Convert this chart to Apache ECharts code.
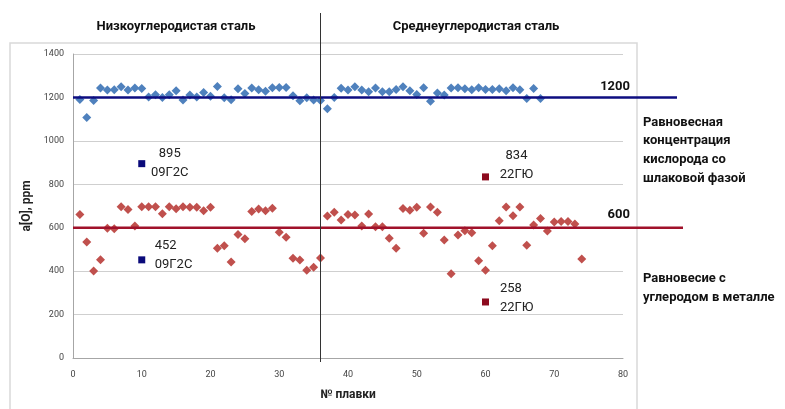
<!DOCTYPE html>
<html>
<head>
<meta charset="utf-8">
<script src="https://cdn.jsdelivr.net/npm/echarts@6/dist/echarts.min.js"></script>
<style>
  html, body { margin: 0; padding: 0; background: #fff; }
  #chart { width: 785px; height: 409px; }
</style>
</head>
<body>
<div id="chart"></div>
<script>
// Oxygen activity per heat, ppm
const blueValues = [
  1191, 1108, 1186, 1243, 1234, 1235, 1249, 1234, 1243, 1241,
  1202, 1212, 1200, 1212, 1231, 1188, 1211, 1202, 1223, 1205,
  1250, 1198, 1189, 1240, 1218, 1243, 1235, 1229, 1244, 1246,
  1246, 1208, 1185, 1198, 1188, 1186, 1148, 1200, 1242, 1234,
  1249, 1234, 1226, 1243, 1226, 1226, 1237, 1249, 1231, 1214,
  1244, 1182, 1220, 1211, 1243, 1244, 1240, 1235, 1244, 1237,
  1237, 1240, 1231, 1244, 1235, 1195, 1241, 1195
];
const redValues = [
  661, 534, 401, 453, 597, 595, 697, 684, 608, 697,
  697, 697, 664, 697, 687, 697, 694, 694, 678, 694,
  506, 517, 442, 569, 549, 675, 686, 678, 690, 579,
  556, 459, 451, 404, 418, 460, 654, 671, 635, 661,
  658, 608, 663, 605, 605, 551, 506, 689, 681, 694,
  575, 695, 671, 543, 388, 566, 586, 577, 448, 404,
  517, 632, 695, 655, 695, 519, 612, 643, 585, 626,
  629, 629, 617, 456
];
// Single reference heats: [heat no., ppm, grade]
const navyPoints = [[10, 895, '09Г2С'], [10, 452, '09Г2С']];
const maroonPoints = [[60, 834, '22ГЮ'], [60, 258, '22ГЮ']];
// Equilibrium levels
const slagLevel = 1200;
const carbonLevel = 600;
// Border between low- and medium-carbon heats
const steelBorder = 36;

const xMin = 0, xMax = 80, xStep = 10;
const yMin = 0, yMax = 1400, yStep = 200;

const FONT = 'Roboto';
const chart = echarts.init(document.getElementById('chart'));

function heatSeries(values) {
  return values.map((v, i) => [i + 1, v]);
}

const yAxisBase = { type: 'value', min: yMin, max: yMax, interval: yStep };
const plainNumber = v => String(v);

chart.setOption({
  backgroundColor: '#fff',
  animation: false,
  grid: [
    { left: 73, right: 162, top: 54, bottom: 51 },
    { left: 73, right: 108, top: 54, bottom: 51 },
    { left: 73, right: 102, top: 54, bottom: 51 }
  ],
  xAxis: [
    {
      type: 'value', gridIndex: 0, min: xMin, max: xMax, interval: xStep,
      name: '№ плавки', nameLocation: 'middle', nameGap: 31,
      nameTextStyle: { fontFamily: FONT, fontWeight: 'bold', fontSize: 12, color: '#222' },
      axisLine: { show: true, lineStyle: { color: '#a6a6a6', width: 1 } },
      axisTick: { show: false },
      axisLabel: { fontFamily: FONT, fontSize: 9, color: '#444', margin: 12, formatter: plainNumber },
      splitLine: { show: false }
    },
    { type: 'value', gridIndex: 1, min: 0, max: 1, show: false },
    { type: 'value', gridIndex: 2, min: 0, max: 1, show: false }
  ],
  yAxis: [
    Object.assign({}, yAxisBase, {
      gridIndex: 0,
      name: 'a[O], ppm', nameLocation: 'middle', nameGap: 34,
      nameTextStyle: { fontFamily: FONT, fontWeight: 'bold', fontSize: 12, color: '#222' },
      axisLine: { show: true, lineStyle: { color: '#a6a6a6', width: 1 } },
      axisTick: { show: false },
      axisLabel: { fontFamily: FONT, fontSize: 9, color: '#444', margin: 9, formatter: plainNumber },
      splitLine: { show: true, lineStyle: { color: '#cfcfcf', width: 1 } }
    }),
    Object.assign({}, yAxisBase, { gridIndex: 1, show: false }),
    Object.assign({}, yAxisBase, { gridIndex: 2, show: false })
  ],
  series: [
    {
      type: 'scatter', xAxisIndex: 0, yAxisIndex: 0,
      symbol: 'diamond', symbolSize: 9,
      itemStyle: { color: '#4f81bd', opacity: 1 },
      data: heatSeries(blueValues), z: 3
    },
    {
      type: 'scatter', xAxisIndex: 0, yAxisIndex: 0,
      symbol: 'diamond', symbolSize: 9,
      itemStyle: { color: '#c0504d', opacity: 1 },
      data: heatSeries(redValues), z: 3
    },
    {
      type: 'line', xAxisIndex: 1, yAxisIndex: 1, symbol: 'none',
      lineStyle: { color: '#0d0d80', width: 2.5 },
      data: [[0, slagLevel], [1, slagLevel]], z: 4
    },
    {
      type: 'line', xAxisIndex: 2, yAxisIndex: 2, symbol: 'none',
      lineStyle: { color: '#a0112a', width: 2.5 },
      data: [[0, carbonLevel], [1, carbonLevel]], z: 4
    },
    {
      type: 'scatter', xAxisIndex: 0, yAxisIndex: 0,
      symbol: 'rect', symbolSize: 7,
      itemStyle: { color: '#0a0a7a', opacity: 1 }, z: 5,
      data: [
        { value: navyPoints[0].slice(0, 2), name: navyPoints[0][2],
          label: { position: [31.5, 3.5], align: 'center' } },
        { value: navyPoints[1].slice(0, 2), name: navyPoints[1][2],
          label: { position: [16.5, -1.5], align: 'left' } }
      ],
      label: {
        show: true, verticalAlign: 'middle', lineHeight: 19,
        fontFamily: FONT, fontSize: 13, color: '#222',
        formatter: p => p.value[1] + '\n' + p.name
      }
    },
    {
      type: 'scatter', xAxisIndex: 0, yAxisIndex: 0,
      symbol: 'rect', symbolSize: 7,
      itemStyle: { color: '#8c0a1e', opacity: 1 }, z: 5,
      data: [
        { value: maroonPoints[0].slice(0, 2), name: maroonPoints[0][2],
          label: { position: [34.5, -8.5], align: 'center' } },
        { value: maroonPoints[1].slice(0, 2), name: maroonPoints[1][2],
          label: { position: [18, -0.5], align: 'left' } }
      ],
      label: {
        show: true, verticalAlign: 'middle', lineHeight: 19,
        fontFamily: FONT, fontSize: 13, color: '#222',
        formatter: p => p.value[1] + '\n' + p.name
      }
    }
  ]
});

// Texts and frame that sit around the plot
const borderX = chart.convertToPixel({ xAxisIndex: 0 }, steelBorder);
const xBottom = chart.convertToPixel({ yAxisIndex: 0 }, yMin);
const ySlag = chart.convertToPixel({ yAxisIndex: 0 }, slagLevel);
const yCarbon = chart.convertToPixel({ yAxisIndex: 0 }, carbonLevel);

const boldText = { fontFamily: FONT, fontWeight: 'bold', fontSize: 13, fill: '#111' };

chart.setOption({
  graphic: [
    {
      type: 'rect', silent: true, z: 0,
      shape: { x: 10, y: 43, width: 627, height: 380 },
      style: { fill: null, stroke: '#d9d9d9', lineWidth: 1.5 }
    },
    {
      type: 'line', silent: true, z: 10,
      shape: { x1: borderX, y1: 13, x2: borderX, y2: xBottom + 4 },
      style: { stroke: '#333', lineWidth: 1 }
    },
    {
      type: 'text', x: 176, y: 27, z: 10,
      style: Object.assign({ text: 'Низкоуглеродистая сталь', align: 'center', verticalAlign: 'middle' }, boldText)
    },
    {
      type: 'text', x: 476, y: 27, z: 10,
      style: Object.assign({ text: 'Среднеуглеродистая сталь', align: 'center', verticalAlign: 'middle' }, boldText)
    },
    {
      type: 'text', x: 630, y: ySlag - 11, z: 10,
      style: Object.assign({ text: String(slagLevel), align: 'right', verticalAlign: 'middle' }, boldText)
    },
    {
      type: 'text', x: 630, y: yCarbon - 13, z: 10,
      style: Object.assign({ text: String(carbonLevel), align: 'right', verticalAlign: 'middle' }, boldText)
    },
    {
      type: 'text', x: 643, y: 113, z: 10,
      style: Object.assign({
        text: 'Равновесная\nконцентрация\nкислорода со\nшлаковой фазой',
        align: 'left', verticalAlign: 'top', lineHeight: 18.7
      }, boldText)
    },
    {
      type: 'text', x: 643, y: 269, z: 10,
      style: Object.assign({
        text: 'Равновесие с\nуглеродом в металле',
        align: 'left', verticalAlign: 'top', lineHeight: 19
      }, boldText)
    }
  ]
});
</script>
</body>
</html>
